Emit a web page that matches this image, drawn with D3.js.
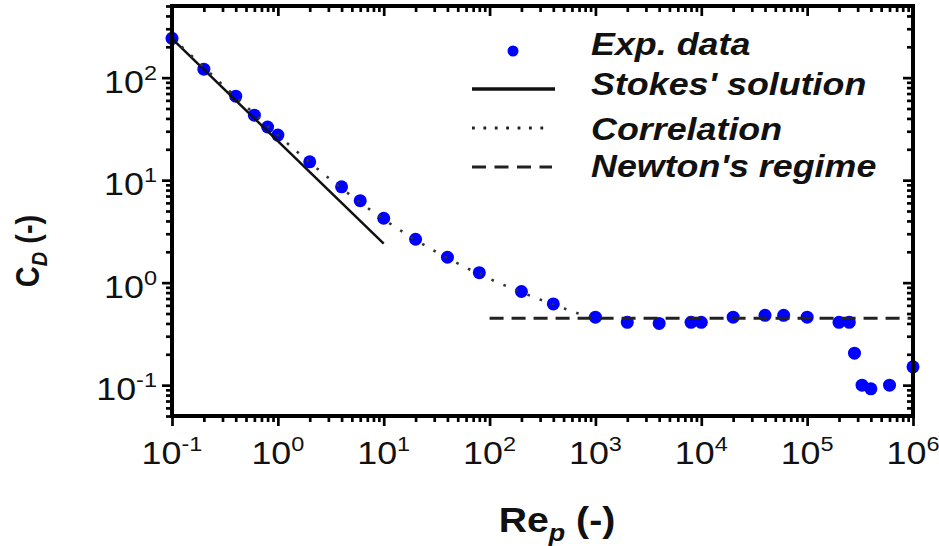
<!DOCTYPE html>
<html><head><meta charset="utf-8">
<script src="https://cdn.jsdelivr.net/npm/d3@7"></script>
<style>body{margin:0;background:#fff}svg{display:block}</style>
</head><body>
<svg id="c" width="939" height="546"></svg>
<script>
// ---- data ----
const reExp = [0.1,0.2,0.4,0.6,0.8,1,2,4,6,10,20,40,80,200,400,1000,2000,4000,8000,10000,20000,40000,60000,100000,200000,250000,280000,330000,400000,600000,1000000];
const cdExp = [242,121,66,43,33,27.5,15.1,8.6,6.3,4.25,2.65,1.77,1.25,0.82,0.62,0.46,0.41,0.40,0.41,0.41,0.46,0.48,0.48,0.46,0.41,0.41,0.205,0.10,0.092,0.10,0.151];
const reStokes = [0.1, 10];
const cdStokes = [240, 2.4];
const reCorr = [0.1,0.2,0.5,1,2,5,10,20,50,100,200,500,1000];
const cdCorr = [247,126,52.5,27.6,14.9,6.97,4.15,2.61,1.54,1.09,0.806,0.563,0.437];
const reNewton = [100, 1000000];
const cdNewton = [0.45, 0.45];
const xMajor = [0.1,1,10,100,1000,10000,100000,1000000];
const xExp = ["-1","0","1","2","3","4","5","6"];
const yMajor = [0.1,1,10,100];
const yExp = ["-1","0","1","2"];
const legendLabels = ["Exp. data","Stokes' solution","Correlation","Newton's regime"];

// ---- layout ----
const L=172,R=913,T=6,B=416;
const SX=1.12;
const FONT="'Liberation Sans', Arial, Helvetica, sans-serif";
const x=d3.scaleLog().domain([0.1,1e6]).range([L,R]);
const y=d3.scaleLog().domain([0.05,500]).range([B,T]);
const svg=d3.select("#c");
const isMaj=v=>Math.abs(Math.log10(v)-Math.round(Math.log10(v)))<1e-6;

// dots
svg.append("g").selectAll("circle")
  .data(reExp.map((r,i)=>[r,cdExp[i]]))
  .join("circle")
  .attr("cx",d=>x(d[0])).attr("cy",d=>y(d[1])).attr("r",6.5).attr("fill","#0000ff");

const line=d3.line().x(d=>x(d[0])).y(d=>y(d[1]));
const zip=(a,b)=>a.map((v,i)=>[v,b[i]]);
svg.append("path").attr("d",line(zip(reStokes,cdStokes)))
  .attr("fill","none").attr("stroke","#111").attr("stroke-width",2.5);
svg.append("path").attr("d",d3.line().x(d=>x(d[0])).y(d=>y(d[1])).curve(d3.curveMonotoneX)(zip(reCorr,cdCorr)))
  .attr("fill","none").attr("stroke","#333").attr("stroke-width",2.6).attr("stroke-dasharray","2.6,10.4");
svg.append("path").attr("d",line(zip(reNewton,cdNewton)))
  .attr("fill","none").attr("stroke","#222").attr("stroke-width",3).attr("stroke-dasharray","14,8");

// axes
const xMinor=x.ticks().filter(v=>!isMaj(v));
const yMinor=y.ticks().filter(v=>!isMaj(v));
function ax(gen,tr,vals,size){
  const g=svg.append("g").attr("transform",tr)
    .call(gen.tickValues(vals).tickSizeInner(size).tickSizeOuter(0).tickFormat(""));
  g.select(".domain").remove();
  g.selectAll("line").attr("stroke","#000").attr("stroke-width",2.7);
  return g;
}
ax(d3.axisBottom(x),`translate(0,${B})`,xMinor,6);
ax(d3.axisBottom(x),`translate(0,${B})`,xMajor,10);
ax(d3.axisTop(x),`translate(0,${T})`,xMinor,-6);
ax(d3.axisTop(x),`translate(0,${T})`,xMajor,-10);
ax(d3.axisLeft(y),`translate(${L},0)`,yMinor,6);
ax(d3.axisLeft(y),`translate(${L},0)`,yMajor,10);
ax(d3.axisRight(y),`translate(${R},0)`,yMinor,-6);
ax(d3.axisRight(y),`translate(${R},0)`,yMajor,-10);
svg.append("rect").attr("x",L).attr("y",T).attr("width",R-L).attr("height",B-T)
  .attr("fill","none").attr("stroke","#000").attr("stroke-width",4);

function powLabel(g,px,py,exp,anchor){
  const t=g.append("text").attr("transform",`translate(${px},${py}) scale(${SX},1)`)
    .attr("text-anchor",anchor).attr("font-family",FONT).attr("fill","#111");
  t.append("tspan").attr("font-size",32).text("10");
  t.append("tspan").attr("font-size",21).attr("dy",-13).text(exp);
}
const lab=svg.append("g");
xMajor.forEach((v,i)=>powLabel(lab,x(v),464,xExp[i],"middle"));
yMajor.forEach((v,i)=>powLabel(lab,157,y(v)+15,yExp[i],"end"));

// axis titles
const xt=svg.append("text").attr("transform",`translate(557,532) scale(${SX},1)`)
  .attr("text-anchor","middle").attr("font-family",FONT).attr("font-weight","bold").attr("fill","#111");
xt.append("tspan").attr("font-size",35).text("Re");
xt.append("tspan").attr("font-size",24).attr("font-style","italic").attr("dy",9).text("p");
xt.append("tspan").attr("font-size",35).attr("dy",-9).text(" (-)");

const yt=svg.append("text").attr("transform",`translate(39,251) scale(${SX},1) rotate(-90)`)
  .attr("text-anchor","middle").attr("font-family",FONT).attr("font-weight","bold").attr("fill","#111");
yt.append("tspan").attr("font-size",29).text("C");
yt.append("tspan").attr("font-size",20).attr("font-style","italic").attr("dy",7).text("D");
yt.append("tspan").attr("font-size",29).attr("dy",-7).text(" (-)");

// legend
const lg=svg.append("g");
const ly=[51,89,128,167];
lg.append("circle").attr("cx",513).attr("cy",ly[0]).attr("r",5.5).attr("fill","#0000ff");
lg.append("line").attr("x1",472).attr("x2",555).attr("y1",ly[1]).attr("y2",ly[1]).attr("stroke","#111").attr("stroke-width",3.5);
lg.append("line").attr("x1",472).attr("x2",547).attr("y1",ly[2]).attr("y2",ly[2]).attr("stroke","#222").attr("stroke-width",2.8).attr("stroke-dasharray","2.8,8.6");
lg.append("line").attr("x1",472).attr("x2",552).attr("y1",ly[3]).attr("y2",ly[3]).attr("stroke","#222").attr("stroke-width",3).attr("stroke-dasharray","14,8.5");
const lb=[55,95,140,177];
legendLabels.forEach((s,i)=>{
  lg.append("text").attr("transform",`translate(591,${lb[i]}) scale(${SX},1)`)
    .attr("font-family",FONT).attr("font-size",32).attr("font-weight","bold").attr("font-style","italic")
    .attr("fill","#111").text(s);
});
</script>
</body></html>
